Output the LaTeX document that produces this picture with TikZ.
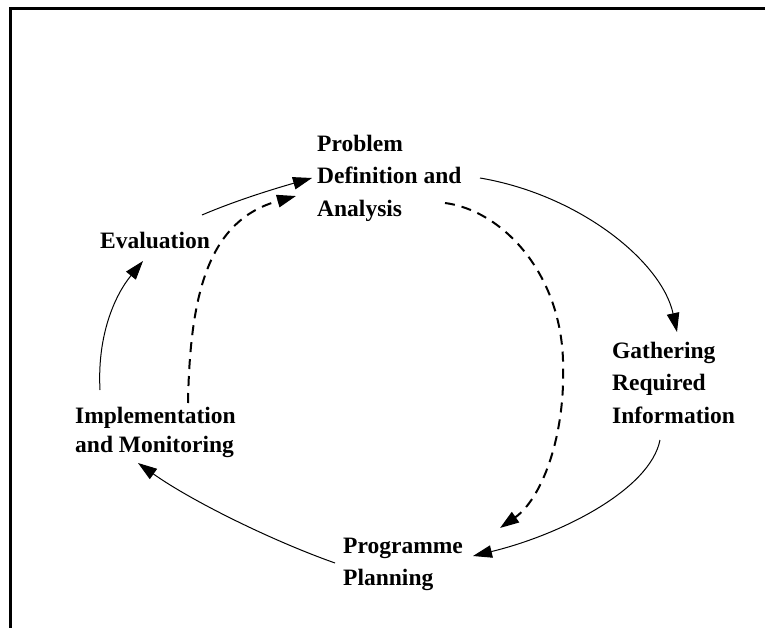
\documentclass[tikz,border=0pt]{standalone}
\usepackage{fontspec}
\setmainfont{Liberation Serif}
\usetikzlibrary{positioning,arrows.meta}

\begin{document}
\begin{tikzpicture}[x=1pt,y=-1pt,
    stage/.style={align=left,anchor=north west,inner sep=0pt,
      font=\bfseries\fontsize{23.5}{32.5}\selectfont},
    flow/.style={draw=black,line width=1pt,-{Triangle[length=19pt,width=12.5pt]}},
    back/.style={flow,line width=2pt,dash pattern=on 10pt off 7pt}]
  \useasboundingbox (0,0) rectangle (765,628);
  \path[draw=black,line width=3pt] (10,640) |- (780,9);

  \node[stage] (prob) at (317,134.5) {Problem\\Definition and\\Analysis};
  \node[stage] (eval) at (100,231.5) {Evaluation};
  \node[stage] (gath) at (612,341.5) {Gathering\\Required\\Information};
  \node[stage] (impl) at (75,406.5) {Implementation\\[-3pt]and Monitoring};
  \node[stage] (prog) at (343,537.5) {Programme\\Planning};

  % main cycle
  \path[flow] ([shift={(102,-16.5)}]eval.north west)
     .. controls +(35,-15) and +(-35,10) .. ([shift={(-5,43.5)}]prob.north west);
  \path[flow] ([shift={(163,43.5)}]prob.north west)
     .. controls +(100,17) and +(-15,-70) .. ([shift={(65,-9.5)}]gath.north west);
  \path[flow] ([shift={(48,98.5)}]gath.north west)
     .. controls +(-10,50) and +(87,-21) .. ([shift={(130,18.5)}]prog.north west);
  \path[flow] ([shift={(-8,25.5)}]prog.north west)
     .. controls +(-65,-23) and +(52,37) .. ([shift={(63,56.5)}]impl.north west);
  \path[flow] ([shift={(25,-16.5)}]impl.north west)
     .. controls +(-3,-55) and +(-28,34) .. ([shift={(43,29.5)}]eval.north west);

  % feedback
  \path[back] ([shift={(113,-3.5)}]impl.north west)
     .. controls +(2,-113) and +(-86,24) .. ([shift={(-21,61.5)}]prob.north west);
  \path[back] ([shift={(128,68.5)}]prob.north west)
     .. controls +(55,7) and +(-3,-90) .. ++(118,157)
     .. controls +(3,80) and +(40,-28) .. ([shift={(157,-9.5)}]prog.north west);
\end{tikzpicture}
\end{document}
